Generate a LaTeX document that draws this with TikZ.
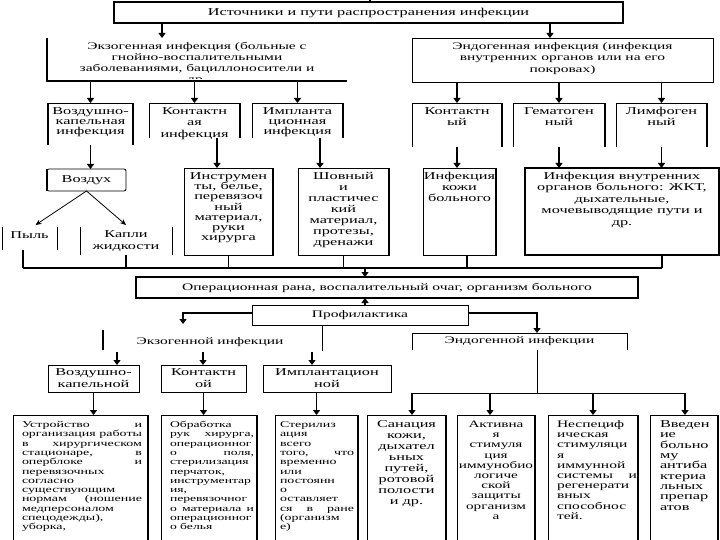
\documentclass[tikz,border=0pt]{standalone}
\usepackage{fontspec}
\setmainfont{Liberation Serif}
\newfontfamily\wf[FakeStretch=1.55]{Liberation Serif}
\usetikzlibrary{arrows.meta}
\hyphenpenalty=10000 \exhyphenpenalty=10000
% centered, top-aligned text box: W H pad size skip content
\newcommand\tbc[6]{\parbox[c][#2pt][t]{#1pt}{\fontsize{#4pt}{#5pt}\selectfont\lineskiplimit=-100pt\vspace*{#3pt}\centering\strut #6\par}}
% justified/left text box: W H pad size skip leftpad rightpad content
\newcommand\tbj[8]{\parbox[c][#2pt][t]{#1pt}{\fontsize{#4pt}{#5pt}\selectfont\lineskiplimit=-100pt\vspace*{#3pt}\leftskip=#6pt\rightskip=#7pt\parindent=0pt\strut #8\par}}
\tikzset{
  bx/.style={inner sep=0pt,outer sep=0pt,anchor=north west,font=\wf},
  cbx/.style={inner sep=0pt,outer sep=0pt,anchor=north west,align=center,font={\wf\fontsize{10.5}{12}\selectfont}},
  lbl/.style={inner sep=0pt,font={\wf\fontsize{10}{12}\selectfont}},
  tk/.style={line width=1.6pt},
  tn/.style={line width=0.8pt},
  arr/.style={line width=1.6pt,-{Triangle[width=7pt,length=5pt]}},
  arrt/.style={line width=0.8pt,-{Stealth[width=5pt,length=6pt]}}
}
\begin{document}
\begin{tikzpicture}[x=1pt,y=-1pt]
\useasboundingbox (0,0) rectangle (720,540);
\fill[white] (0,0) rectangle (720,540);

% ---------- top ----------
\node[cbx,minimum width=509pt,minimum height=21pt,font={\wf\fontsize{10.5}{12}\selectfont}] (src) at (114,2) {Источники и пути распространения инфекции};
\draw[tk] (src.north west) rectangle (src.south east);

\begin{scope}
\clip (47,38) rectangle (347,78.6);
\node[bx] (exo) at (47,38) {\tbc{300}{43}{3.8}{10}{11}{Экзогенная инфекция (больные с\\гнойно-воспалительными\\заболеваниями, бациллоносители и\\др.}};
\end{scope}
\draw[tk] (exo.north west) -- (exo.south west) -- (exo.south east);

\node[bx] (endo) at (412,38) {\tbc{301}{44}{3.45}{10}{11.5}{Эндогенная инфекция (инфекция\\внутренних органов или на его\\покровах)}};
\draw[tn] (endo.north west) rectangle (endo.south east);

% ---------- second row ----------
\node[bx] (vk1) at (48,103) {\tbc{85}{42}{4.5}{10.5}{10}{Воздушно-\\капельная\\инфекция}};
\node[bx] (kont1) at (149,103) {\tbc{91}{35}{3.45}{10.5}{11.5}{Контактн\\ая\\инфекция}};
\node[bx] (impl1) at (252,103) {\tbc{91}{35}{4.5}{10.5}{10}{Импланта\\ционная\\инфекция}};
\node[bx] (kont2) at (412,103) {\tbc{90}{44}{3.8}{10.5}{11}{Контактн\\ый}};
\node[bx] (gem) at (513,103) {\tbc{92}{44}{3.8}{10.5}{11}{Гематоген\\ный}};
\node[bx] (limf) at (616,103) {\tbc{91}{44}{3.8}{10.5}{11}{Лимфоген\\ный}};
\foreach \n in {vk1,kont1,impl1,kont2,gem,limf}{
  \draw[tn] (\n.south west) -- (\n.north west) -- (\n.north east);
  \draw[tk] (\n.north east) -- (\n.south east);
}
\draw[tk] (vk1.north west) -- (vk1.south west);

% ---------- third row ----------
\node[cbx,minimum width=79pt,minimum height=22pt] (vozd) at (47,169) {Воздух};
\draw[tn,rounded corners=2pt] (vozd.north west) rectangle (vozd.south east);
\draw[tk] (vozd.north west) -- (vozd.south west);

\node[bx] (pyl) at (2,227) {\tbc{55}{23}{3.5}{10.5}{12}{Пыль}};
\node[bx] (kapli) at (80,227) {\tbc{92}{28}{2.1}{10.5}{12}{Капли\\жидкости}};
\foreach \n in {pyl,kapli}{
  \draw[tn] (\n.north west) -- (\n.south west);
  \draw[tn] (\n.north east) -- (\n.south east);
}

\node[bx] (instr) at (184,168) {\tbc{89}{87}{4.4}{10.5}{10.2}{Инструмен\\ты, белье,\\перевязоч\\ный\\материал,\\руки\\хирурга}};
\node[bx] (shov) at (298,168) {\tbc{91}{87}{3.8}{10.5}{11}{Шовный\\и\\пластичес\\кий\\материал,\\протезы,\\дренажи}};
\node[bx] (kozh) at (423,168) {\tbc{73}{87}{3.8}{10.5}{11}{Инфекция\\кожи\\больного}};
\node[bx] (vnutr) at (525,168) {\tbc{194}{87}{3.45}{10.5}{11.5}{Инфекция внутренних\\органов больного: ЖКТ,\\дыхательные,\\мочевыводящие пути и\\др.}};
\foreach \n in {instr,shov,kozh}{
  \draw[tn] (\n.north west) rectangle (\n.south east);
  \draw[tk] (\n.north east) -- (\n.south east);
}
\draw[tk] (vnutr.north west) rectangle (vnutr.south east);

% ---------- connectors top part ----------
\coordinate (t0) at (370,0);
\draw[tk] (src.north -| t0) -- (t0);
\coordinate (a1) at (162,0);
\coordinate (a2) at (550,0);
\draw[arr] (src.south -| a1) -- (exo.north -| a1);
\draw[arr] (src.south -| a2) -- (endo.north -| a2);
\foreach \n in {vk1,kont1,impl1} \draw[arr] (exo.south -| \n.north) -- (\n.north);
\foreach \n in {kont2,gem,limf} \draw[arr] (endo.south -| \n.north) -- (\n.north);
\draw[arr] (vk1.south) -- (vk1.south |- vozd.north);
\coordinate (a3) at (217,0);
\coordinate (a4) at (320,0);
\draw[arr] (kont1.south -| a3) -- (instr.north -| a3);
\draw[arr] (impl1.south -| a4) -- (shov.north -| a4);
\draw[arr] (kont2.south) -- (kont2.south |- kozh.north);
\draw[arr] (gem.south) -- (gem.south |- vnutr.north);
\draw[arr] (limf.south) -- (limf.south |- vnutr.north);
\draw[arrt] (vozd.south) -- ([xshift=6pt,yshift=2pt]pyl.north);
\draw[arrt] (vozd.south) -- ([yshift=2pt]kapli.north);

% collector
\coordinate (cL) at (23,268);
\coordinate (cR) at (662,268);
\coordinate (ck) at (467,268);
\coordinate (co) at (365,268);
\draw[tk] (cL) -- (cR);
\draw[tk] (pyl.south -| cL) -- (cL);
\draw[tk] (kapli.south) -- (kapli.south |- cL);
\draw[tk] (instr.south) -- (instr.south |- cL);
\draw[tk] (shov.south) -- (shov.south |- cL);
\draw[tk] (kozh.south -| ck) -- (ck);
\draw[tk] (vnutr.south -| cR) -- (cR);

% ---------- middle ----------
\node[cbx,minimum width=502pt,minimum height=21pt,font={\wf\fontsize{10}{12}\selectfont}] (op) at (136,277) {Операционная рана, воспалительный очаг, организм больного};
\draw[tk] (op.north west) rectangle (op.south east);
\draw[arr] (co) -- (op.north -| co);

\node[cbx,minimum width=216pt,minimum height=20pt,font={\wf\fontsize{10}{12}\selectfont}] (prof) at (252,305) {Профилактика};
\draw[tn] (prof.north west) rectangle (prof.south east);
\draw[arr] (prof.north -| co) -- (op.south -| co);

\node[lbl] (exlab) at (210,342) {Экзогенной инфекции};
\node[cbx,minimum width=215pt,minimum height=17pt,font={\wf\fontsize{10}{12}\selectfont}] (en2) at (412,333) {Эндогенной инфекции};
\draw[tn] (en2.south west) -- (en2.north west) -- (en2.north east) -- (en2.south east);

\coordinate (bl) at (183,313);
\coordinate (ble) at (183,324);
\coordinate (br) at (537,313);
\draw[arr] (prof.west |- bl) -- (bl) -- (ble);
\draw[arr] (prof.east |- br) -- (br) -- (en2.north -| br);

\coordinate (l1a) at (103,330);
\coordinate (l1b) at (103,350);
\coordinate (l2a) at (322,326);
\coordinate (l2b) at (322,351);
\draw[tk] (l1a) -- (l1b);
\draw[tn] (l2a) -- (l2b);

\node[cbx,minimum width=91pt,minimum height=27pt] (vk2) at (48,365) {Воздушно-\\капельной};
\node[cbx,minimum width=85pt,minimum height=27pt] (kont3) at (161,365) {Контактн\\ой};
\node[cbx,minimum width=128pt,minimum height=27pt] (impl2) at (263,365) {Имплантацион\\ной};
\foreach \n in {vk2,kont3,impl2} \draw[tn] (\n.north west) rectangle (\n.south east);

\coordinate (e1) at (117,352);
\coordinate (e2) at (203,352);
\coordinate (e3) at (312,352);
\draw[arr] (e1) -- (vk2.north -| e1);
\draw[arr] (e2) -- (kont3.north -| e2);
\draw[arr] (e3) -- (impl2.north -| e3);

% ---------- bottom boxes ----------
\begin{scope}
\clip (0,400) rectangle (720,531);
\node[bx] (b1) at (13,415) {\tbj{135}{125}{6}{9}{9.3}{9}{6}{Устройство\hfill и\\организация\hfill работы\\в\hfill хирургическом\\стационаре,\hfill в\\оперблоке\hfill и\\перевязочных\\согласно\\существующим\\нормам\hfill (ношение\\медперсоналом\\спецодежды),\\уборка,}};
\node[bx] (b2) at (161,415) {\tbj{96}{125}{6}{8.8}{9.3}{9}{3}{Обработка\\рук\hfill хирурга,\\операционног\\о\hfill поля,\\стерилизация\\перчаток,\\инструментар\\ия,\\перевязочног\\о\hfill материала\hfill и\\операционног\\о белья}};
\node[bx] (b3) at (275,415) {\tbj{83}{125}{6}{9}{9.3}{5}{4}{Стерилиз\\ация\\всего\\того,\hfill что\\временно\\или\\постоянн\\о\\оставляет\\ся\hfill в\hfill ране\\(организм\\е)}};
\node[bx] (b4) at (367,415) {\tbc{79}{125}{4.8}{10.5}{11}{Санация\\кожи,\\дыхател\\ьных\\путей,\\ротовой\\полости\\и др.}};
\node[bx] (b5) at (457,415) {\tbc{78}{125}{5.4}{9.8}{10.2}{Активна\\я\\стимуля\\ция\\иммунобио\\логиче\\ской\\защиты\\организм\\а}};
\node[bx] (b6) at (548,415) {\tbj{90}{125}{5.4}{10}{10.2}{9}{1}{Неспециф\\ическая\\стимуляци\\я\\иммунной\\системы\hfill и\\регенерати\\вных\\способнос\\тей.}};
\node[bx] (b7) at (650,415) {\tbj{68}{125}{5.4}{10.5}{10.3}{10}{2}{Введен\\ие\\больно\\му\\антиба\\ктериа\\льных\\препар\\атов}};
\end{scope}
\foreach \n in {b1,b2,b3,b4,b5,b6,b7}{
  \draw[tn] (\n.south west) -- (\n.north west) -- (\n.north east);
  \draw[tk] (\n.north east) -- (\n.south east);
}

\draw[arr] (vk2.south) -- (vk2.south |- b1.north);
\draw[arr] (kont3.south) -- (kont3.south |- b2.north);
\draw[arr] (impl2.south -| b3.north) -- (b3.north);

\coordinate (ev) at (537,393);
\coordinate (eh1) at (412,393);
\coordinate (eh2) at (685,393);
\coordinate (eh3) at (490,393);
\draw[tn] (en2.south -| ev) -- (ev);
\draw[tn] (eh1) -- (eh2);
\draw[arr] (eh1) -- (b4.north -| eh1);
\draw[arr] (eh3) -- (b5.north -| eh3);
\draw[arr] (b6.north |- eh1) -- (b6.north);
\draw[arr] (eh2) -- (b7.north -| eh2);
\end{tikzpicture}
\end{document}
